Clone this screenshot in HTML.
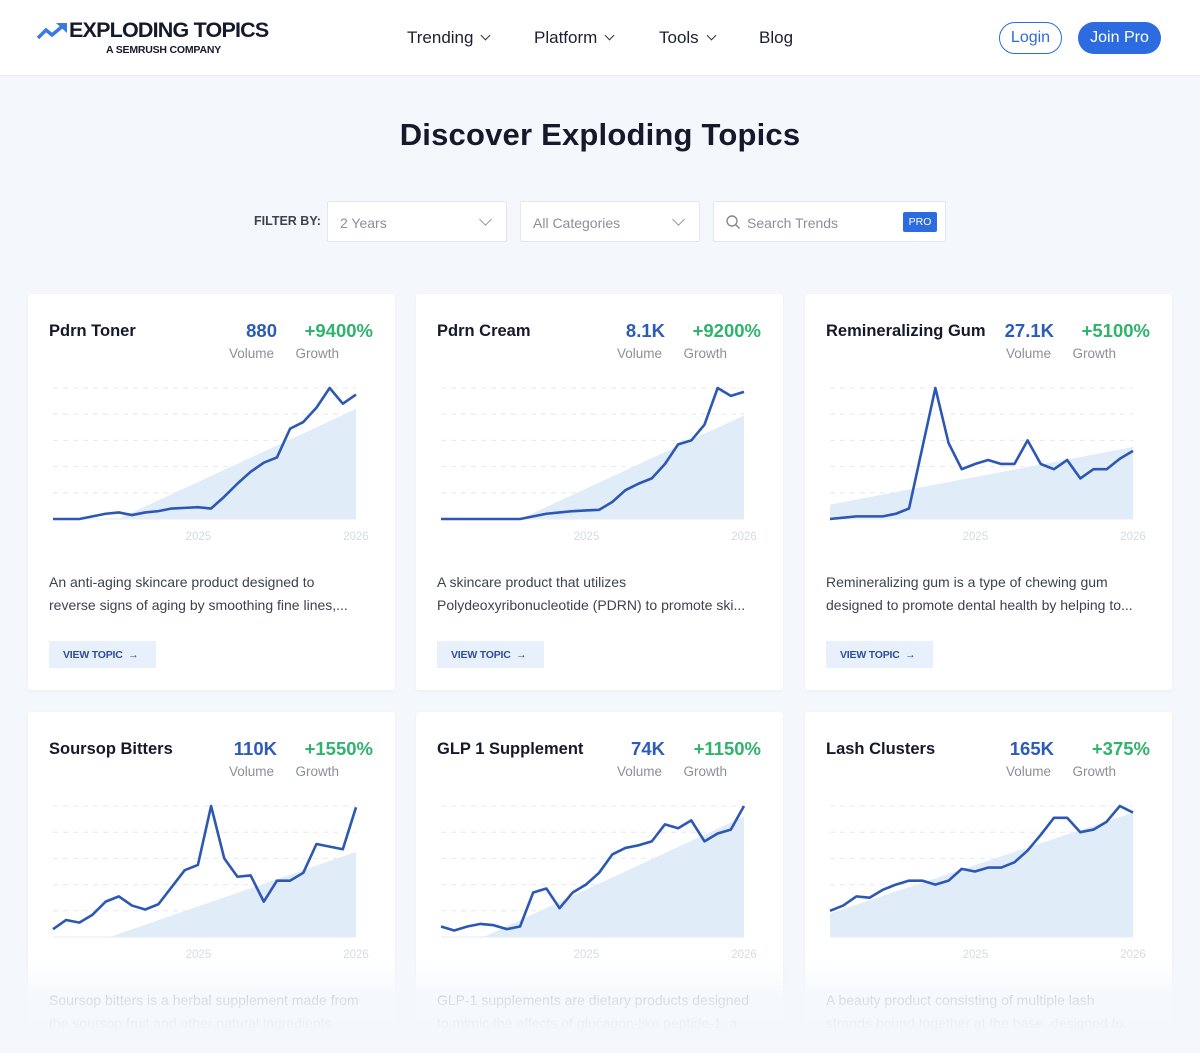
<!DOCTYPE html>
<html style="overflow:hidden;height:1053px"><head><meta charset="utf-8">
<style>
*{box-sizing:border-box;margin:0;padding:0}
body{width:1200px;height:1053px;overflow:hidden;background:#f4f8fc;font-family:"Liberation Sans",sans-serif;color:#16192b;position:relative}
.hdr{position:absolute;left:0;top:0;width:1200px;height:76px;background:#fff;border-bottom:1px solid #e6ecf3}
.abs{position:absolute}
.nav{position:absolute;top:28px;font-size:17px;color:#1b1f33}
.nav .chev{display:inline-block;width:7px;height:7px;border-right:1.5px solid #333;border-bottom:1.5px solid #333;transform:rotate(45deg);margin-left:9px;position:relative;top:-4px}
.title{position:absolute;top:117px;left:0;width:1200px;text-align:center;font-size:31px;font-weight:bold;color:#16192b;letter-spacing:0.2px}
.sel{position:absolute;top:201px;height:41px;background:#fff;border:1px solid #e3e8ef;border-radius:2px;font-size:14px;color:#8a909a;padding:13px 12px}
.sel .chev{position:absolute;right:16px;top:13px;width:9px;height:9px;border-right:1.3px solid #999;border-bottom:1.3px solid #999;transform:rotate(45deg)}
.card{position:absolute;width:367px;background:#fff;border-radius:3px;box-shadow:0 1px 3px rgba(30,60,110,0.05);overflow:hidden}
.ct{position:absolute;left:21px;top:28px;font-size:16.5px;font-weight:bold;color:#16192b}
.vol{position:absolute;top:26px;font-size:18.5px;font-weight:bold;color:#2d5bb8;text-align:right}
.gr{position:absolute;top:26px;font-size:18.5px;font-weight:bold;color:#2fb36d;text-align:right}
.lbl{position:absolute;top:52px;font-size:13.5px;color:#8a909a}
.desc{position:absolute;left:21px;top:277px;width:330px;font-size:14px;line-height:22.5px;color:#3d4250}
.btn{position:absolute;left:21px;top:347px;width:107px;height:27px;background:#e8f0fb;color:#2d4f9a;font-size:10.5px;font-weight:bold;padding:8px 0 0 14px;letter-spacing:-0.2px}
svg text{font-family:"Liberation Sans",sans-serif}
.fade{position:absolute;left:0;top:955px;width:1200px;height:98px;background:linear-gradient(rgba(244,248,252,0),rgba(244,248,252,0.85) 45%,#f4f8fc 80%)}
</style></head><body>
<div class="hdr">
  <svg class="abs" style="left:37px;top:22px" width="32" height="18"><polyline points="1,16 9,8 15,13 27,3" fill="none" stroke="#3a7be0" stroke-width="3.5"/><polygon points="19,1 30,1 30,11" fill="#3a7be0"/></svg>
  <div class="abs" style="left:69px;top:18px;font-size:21.5px;font-weight:bold;letter-spacing:-0.8px;color:#16192b">EXPLODING TOPICS</div>
  <div class="abs" style="left:106px;top:44px;font-size:10.5px;color:#16192b;font-weight:bold;letter-spacing:-0.2px">A SEMRUSH COMPANY</div>
  <div class="nav" style="left:407px">Trending<span class="chev"></span></div>
  <div class="nav" style="left:534px">Platform<span class="chev"></span></div>
  <div class="nav" style="left:659px">Tools<span class="chev"></span></div>
  <div class="nav" style="left:759px">Blog</div>
  <div class="abs" style="left:999px;top:22px;width:63px;height:32px;border:1.5px solid #2d6be0;border-radius:16px;color:#2d6be0;font-size:16px;text-align:center;line-height:29px">Login</div>
  <div class="abs" style="left:1078px;top:22px;width:83px;height:32px;background:#2d6be0;border-radius:16px;color:#fff;font-size:16px;text-align:center;line-height:32px">Join Pro</div>
</div>
<div class="title">Discover Exploding Topics</div>
<div class="abs" style="left:254px;top:214px;font-size:12.5px;font-weight:bold;color:#3d4250">FILTER BY:</div>
<div class="sel" style="left:327px;width:180px">2 Years<span class="chev"></span></div>
<div class="sel" style="left:520px;width:180px">All Categories<span class="chev"></span></div>
<div class="sel" style="left:713px;width:233px;padding-left:33px">
  <svg class="abs" style="left:12px;top:13px" width="15" height="15"><circle cx="6" cy="6" r="5" fill="none" stroke="#888" stroke-width="1.4"/><line x1="9.5" y1="9.5" x2="13.5" y2="13.5" stroke="#888" stroke-width="1.4"/></svg>
  Search Trends
  <div class="abs" style="left:189px;top:10px;width:34px;height:20px;background:#2d6be0;color:#fff;font-size:10.5px;text-align:center;line-height:20px;border-radius:2px">PRO</div>
</div>
<div id="cards"></div>
<div class="fade"></div>
<script>
const titles=["Pdrn Toner","Pdrn Cream","Remineralizing Gum","Soursop Bitters","GLP 1 Supplement","Lash Clusters"];
const volumes=["880","8.1K","27.1K","110K","74K","165K"];
const growths=["+9400%","+9200%","+5100%","+1550%","+1150%","+375%"];
const descs=[["An anti-aging skincare product designed to","reverse signs of aging by smoothing fine lines,..."],["A skincare product that utilizes","Polydeoxyribonucleotide (PDRN) to promote ski..."],["Remineralizing gum is a type of chewing gum","designed to promote dental health by helping to..."],["Soursop bitters is a herbal supplement made from","the soursop fruit and other natural ingredients..."],["GLP-1 supplements are dietary products designed","to mimic the effects of glucagon-like peptide-1, a..."],["A beauty product consisting of multiple lash","strands bound together at the base, designed to..."]];
const s1=[0,0,0,2,4,5,3,5,6,8,8.5,9,8,17,27,36,43,47,69,74,85,100,88,95];
const s2=[0,0,0,0,0,0,0,2,4,5,6,6.5,7,13,22,27,31,42,57,60,72,100,94,97];
const s3=[0,1,2,2,2,4,8,54,100,58,38,42,45,42,42,60,42,38,45,31,38,38,46,52];
const s4=[6,13,11,17,27,31,24,21,25,38,51,55,100,60,46,47,27,43,43,49,71,69,67,99];
const s5=[8,5,8,10,9,6,8,34,37,22,34,40,49,63,68,70,73,86,83,89,73,79,82,100];
const s6=[20,24,31,30,36,40,43,43,40,43,52,50,53,53,57,66,78,91,91,80,82,88,100,95];
const series=[s1,s2,s3,s4,s5,s6];
const trendStart=[-23,-28,11,-15,-15,18];
const trendEnd=[84,79,55,65,92,95];
const gridVals=[20,40,60,80,100];
const yearLabels=["2025","2026"];
const yearPos=[0.48,1];
const NS="http://www.w3.org/2000/svg";
const X0=25,X1=328,YT=94,YB=225;
function xs(i,n){return X0+(X1-X0)*i/(n-1);}
function ys(v){return YB-(YB-YT)*v/100;}
const cols=[28,416,805],rows=[294,712];
const wrap=document.getElementById('cards');
titles.forEach((t,k)=>{
  const c=document.createElement('div');c.className='card';
  
  
  c.style.left=cols[k%3]+'px';c.style.top=rows[Math.floor(k/3)]+'px';c.style.height=(k<3?396:341)+'px';
  c.innerHTML=`<div class="ct">${t}</div>
  <div class="vol" style="right:118px">${volumes[k]}</div>
  <div class="lbl" style="right:121px">Volume</div>
  <div class="gr" style="right:22px">${growths[k]}</div>
  <div class="lbl" style="right:56px">Growth</div>
  <div class="desc">${descs[k][0]}<br>${descs[k][1]}</div>
  <div class="btn">VIEW TOPIC &nbsp;→</div>`;
  const svg=document.createElementNS(NS,'svg');
  svg.setAttribute('width','367');svg.setAttribute('height','260');
  svg.style.position='absolute';svg.style.left='0';svg.style.top='0';
  
  
  svg.innerHTML=`<defs><clipPath id="cp${k}"><rect x="0" y="0" width="367" height="${YB}"/></clipPath></defs>`;
  gridVals.forEach(g=>{
    const l=document.createElementNS(NS,'line');
    l.setAttribute('x1',X0);l.setAttribute('x2',X1);l.setAttribute('y1',ys(g));l.setAttribute('y2',ys(g));
    l.setAttribute('stroke','#e6e9ee');l.setAttribute('stroke-dasharray','5,5');
    
    
    svg.appendChild(l);
  });
  const tp=document.createElementNS(NS,'polygon');
  tp.setAttribute('points',`${X0},${YB} ${X0},${ys(trendStart[k])} ${X1},${ys(trendEnd[k])} ${X1},${YB}`);
  tp.setAttribute('fill','#e1ecf9');tp.setAttribute('clip-path',`url(#cp${k})`);
  
  
  svg.appendChild(tp);
  const bl=document.createElementNS(NS,'line');
  bl.setAttribute('x1',X0);bl.setAttribute('x2',X1);bl.setAttribute('y1',YB);bl.setAttribute('y2',YB);bl.setAttribute('stroke','#e6ecf4');
  svg.appendChild(bl);
  const d=series[k];
  const pl=document.createElementNS(NS,'polyline');
  pl.setAttribute('points',d.map((v,i)=>xs(i,d.length)+','+ys(v)).join(' '));
  pl.setAttribute('fill','none');pl.setAttribute('stroke','#2c58b4');pl.setAttribute('stroke-width','2.6');pl.setAttribute('stroke-linejoin','round');
  
  
  svg.appendChild(pl);
  yearLabels.forEach((y,i)=>{
    const tx=document.createElementNS(NS,'text');
    tx.setAttribute('x',X0+(X1-X0)*yearPos[i]);tx.setAttribute('y',YB+21);tx.setAttribute('text-anchor','middle');
    tx.setAttribute('font-size','11.5');tx.setAttribute('fill','#d5dbe4');tx.textContent=y;
    
    
    svg.appendChild(tx);
  });
  c.appendChild(svg);
  wrap.appendChild(c);
});
</script>
</body></html>
